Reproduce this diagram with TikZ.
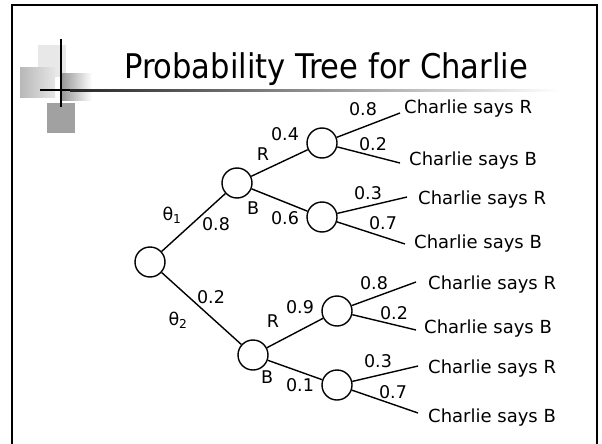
\documentclass[tikz,border=0pt]{standalone}
\usepackage{fontspec}
\setmainfont{DejaVu Sans}
\newfontfamily\titlefont{DejaVu Sans Condensed}
\usetikzlibrary{positioning}
\tikzstyle{vertex}  = [draw, circle, line width=1.4pt, minimum size=30pt, inner sep=0pt, fill=white]
\tikzstyle{edge}    = [line width=1.4pt]
\tikzstyle{prob}    = [inner sep=0pt, font=\fontsize{17.5}{17.5}\selectfont]
\tikzstyle{outcome} = [inner sep=0pt, anchor=base west, font=\fontsize{18}{18}\selectfont]
\tikzstyle{branch}  = [inner sep=0pt, font=\fontsize{17.5}{17.5}\selectfont]

\begin{document}
\begin{tikzpicture}[x=1pt,y=-1pt]
\useasboundingbox (0,0) rectangle (602,444);

% rámeček snímku
\draw[line width=2pt] (12,450) -- (12,5) -- (597,5) -- (597,450);

% ozdobné čtverce
\fill[black!9] (38,45) rectangle (66,77);
\shade[left color=black!28, right color=black!10] (20,68) rectangle (55,97);
\shade[left color=black!40, right color=white] (62,73) rectangle (92,100);
\fill[black!37] (47,103) rectangle (75,133);
\draw[line width=2pt] (61,39) -- (61,107);
\shade[left color=black!85, right color=white] (70,89) rectangle (560,91);
\draw[line width=2pt] (40,90) -- (70,90);

% nadpis
\node[inner sep=0pt, anchor=base west, font=\titlefont\fontsize{34}{34}\selectfont] (title) at (124,78) {Probability Tree for Charlie};

% kořen
\node[vertex] (c) at (150,262) {};

% horní větev
\node[vertex] (a1) at (237,183) {};
\node[vertex] (b1) at (322,143) {};
\node[vertex] (b2) at (322,217) {};

% dolní větev
\node[vertex] (a2) at (253,355) {};
\node[vertex] (b3) at (337,311) {};
\node[vertex] (b4) at (337,385) {};

% volné konce listů
\coordinate (l11) at (400,113);
\coordinate (l12) at (400,163);
\coordinate (l21) at (407,197);
\coordinate (l22) at (405,244);
\coordinate (l31) at (416,282);
\coordinate (l32) at (416,330);
\coordinate (l41) at (418,366);
\coordinate (l42) at (418,413);

% hrany od kořene
\draw[edge] (c) -- (a1);
\draw[edge] (c) -- (a2);

% hrany druhé úrovně
\draw[edge] (a1) -- (b1);
\draw[edge] (a1) -- (b2);
\draw[edge] (a2) -- (b3);
\draw[edge] (a2) -- (b4);

% hrany k listům
\draw[edge] (b1) -- (l11);
\draw[edge] (b1) -- (l12);
\draw[edge] (b2) -- (l21);
\draw[edge] (b2) -- (l22);
\draw[edge] (b3) -- (l31);
\draw[edge] (b3) -- (l32);
\draw[edge] (b4) -- (l41);
\draw[edge] (b4) -- (l42);

% popisky u kořene
\node[branch] (t1) at (172,215) {θ\textsubscript{1}};
\node[prob]   (p1) at (216,224) {0.8};
\node[prob]   (p2) at (211,297) {0.2};
\node[branch] (t2) at (178,320) {θ\textsubscript{2}};

% popisky druhé úrovně
\node[branch] (r1) at (263,154) {R};
\node[prob]   (p11) at (285,134) {0.4};
\node[branch] (s1) at (253,208) {B};
\node[prob]   (p12) at (285,218) {0.6};
\node[branch] (r2) at (273,321) {R};
\node[prob]   (p21) at (300,307) {0.9};
\node[branch] (s2) at (267,377) {B};
\node[prob]   (p22) at (300,385) {0.1};

% popisky listů
\node[prob] (q11) at (363,109) {0.8};
\node[prob] (q12) at (373,144) {0.2};
\node[prob] (q21) at (368,193) {0.3};
\node[prob] (q22) at (383,223) {0.7};
\node[prob] (q31) at (374,283) {0.8};
\node[prob] (q32) at (394,313) {0.2};
\node[prob] (q41) at (378,361) {0.3};
\node[prob] (q42) at (393,392) {0.7};

% výsledky
\node[outcome] (o11) at (404,113) {Charlie says R};
\node[outcome] (o12) at (409,165) {Charlie says B};
\node[outcome] (o21) at (418,204) {Charlie says R};
\node[outcome] (o22) at (414,248) {Charlie says B};
\node[outcome] (o31) at (428,289) {Charlie says R};
\node[outcome] (o32) at (424,333) {Charlie says B};
\node[outcome] (o41) at (428,373) {Charlie says R};
\node[outcome] (o42) at (428,422) {Charlie says B};

\end{tikzpicture}
\end{document}
